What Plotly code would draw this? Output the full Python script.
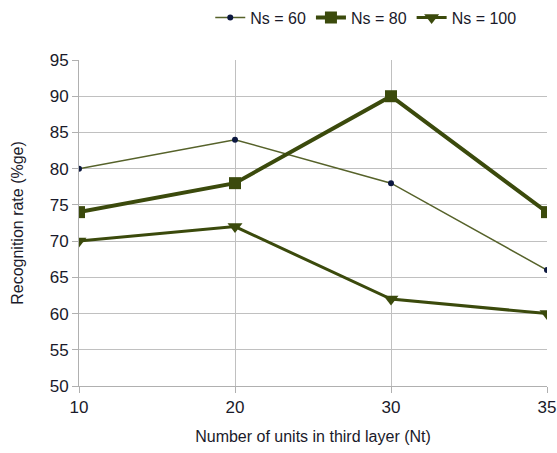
import plotly.graph_objects as go

categories = ["10", "20", "30", "35"]
ns60 = [80, 84, 78, 66]
ns80 = [74, 78, 90, 74]
ns100 = [70, 72, 62, 60]
y_ticks = [50, 55, 60, 65, 70, 75, 80, 85, 90, 95]

olive = "#3b4a0c"
fig = go.Figure()
fig.add_trace(go.Scatter(x=categories, y=ns60, name="Ns = 60", mode="lines+markers",
                         line=dict(color="#56622a", width=1.5),
                         marker=dict(symbol="circle", size=6, color="#0c1840")))
fig.add_trace(go.Scatter(x=categories, y=ns80, name="Ns = 80", mode="lines+markers",
                         line=dict(color=olive, width=4),
                         marker=dict(symbol="square", size=12, color=olive)))
fig.add_trace(go.Scatter(x=categories, y=ns100, name="Ns = 100", mode="lines+markers",
                         line=dict(color=olive, width=3),
                         marker=dict(symbol="triangle-down", size=13, color=olive)))

font = "Liberation Sans, Arial, sans-serif"
fig.update_layout(
    width=557, height=453,
    margin=dict(l=79, r=10, t=60, b=67, autoexpand=False),
    paper_bgcolor="white", plot_bgcolor="white",
    font=dict(family=font, color="#1a1a2a"),
    legend=dict(orientation="h", x=0.945, xanchor="right", y=1.13, yanchor="middle",
                font=dict(size=16), itemwidth=30, tracegroupgap=0,
                bgcolor="rgba(0,0,0,0)"),
    showlegend=True,
)
fig.update_xaxes(type="category", range=[0, 3], showgrid=True, gridcolor="#c0c0c0",
                 gridwidth=1, ticks="outside", ticklen=6, tickcolor="#b0b0b0",
                 showline=True, linecolor="#b0b0b0", mirror=False, automargin=False,
                 tickfont=dict(size=17),
                 title=dict(text="Number of units in third layer (Nt)", font=dict(size=16), standoff=14))
fig.update_yaxes(range=[50, 95], tickvals=y_ticks, showgrid=True, gridcolor="#c0c0c0",
                 gridwidth=1, ticks="outside", ticklen=6, tickcolor="#b0b0b0",
                 showline=True, linecolor="#b0b0b0", zeroline=False, automargin=False,
                 tickfont=dict(size=17),
                 title=dict(text="Recognition rate (%ge)", font=dict(size=16), standoff=22))

fig.write_html("out.html", config={"displayModeBar": False},
               post_script="document.body.style.margin='0';document.body.style.overflow='hidden';")
